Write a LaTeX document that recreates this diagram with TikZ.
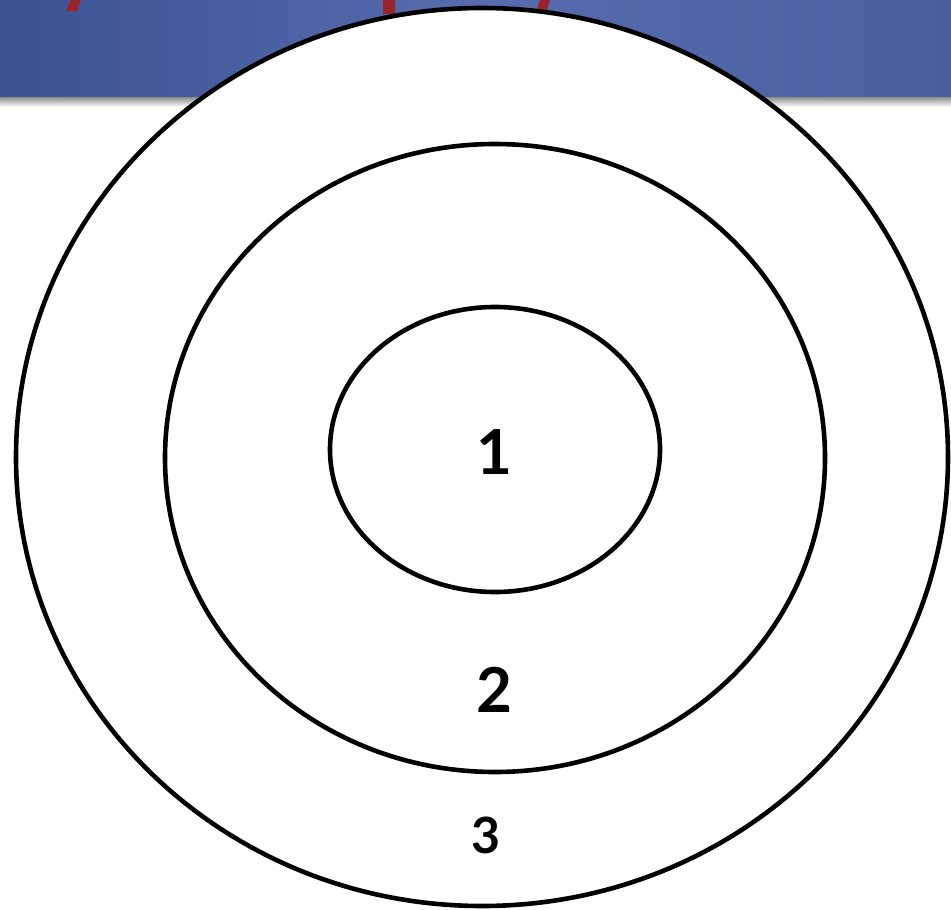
\documentclass[tikz,border=0pt]{standalone}
\usepackage{fontspec}
\setmainfont{Lato}
\usetikzlibrary{shapes.geometric}
\definecolor{bannerL}{HTML}{3A5192}
\definecolor{bannerM}{HTML}{566CAE}
\definecolor{bannerR}{HTML}{4A5FA0}
\definecolor{redmark}{HTML}{9A2428}
\tikzset{
  ring/.style={draw=black, line width=4.6pt, fill=white},
  lbl/.style={text=black, inner sep=0pt},
}
\begin{document}
\begin{tikzpicture}[x=1pt,y=-1pt]
\useasboundingbox (0,0) rectangle (951,910);
% banner
\shade[left color=bannerL, right color=bannerR, middle color=bannerM, shading angle=90] (0,0) rectangle (951,97);
\shade[top color=black!45, bottom color=white] (0,97) rectangle (951,107);
% red marks (cut-off title)
\fill[redmark] (66,11) -- (77,11) -- (81,0) -- (71,0) -- cycle;
\fill[redmark] (383,14) rectangle (395,0);
\fill[redmark] (536,12) -- (546,12) -- (550,0) -- (540,0) -- cycle;
% rings
\node[ring, ellipse, minimum width=932, minimum height=898, inner sep=0pt] (outer) at (482,457) {};
\node[ring, ellipse, minimum width=660, minimum height=628, inner sep=0pt] (middle) at (495,458) {};
\node[ring, ellipse, minimum width=330, minimum height=285, inner sep=0pt] (inner) at (495,449.5) {};
% labels
\node[lbl, font=\fontsize{62}{62}\selectfont\bfseries] (l1) at (494,452) {1};
\node[lbl, font=\fontsize{62}{62}\selectfont\bfseries] (l2) at (494,690) {2};
\node[lbl, font=\fontsize{50}{50}\selectfont\bfseries] (l3) at (486,835) {3};
\end{tikzpicture}
\end{document}
